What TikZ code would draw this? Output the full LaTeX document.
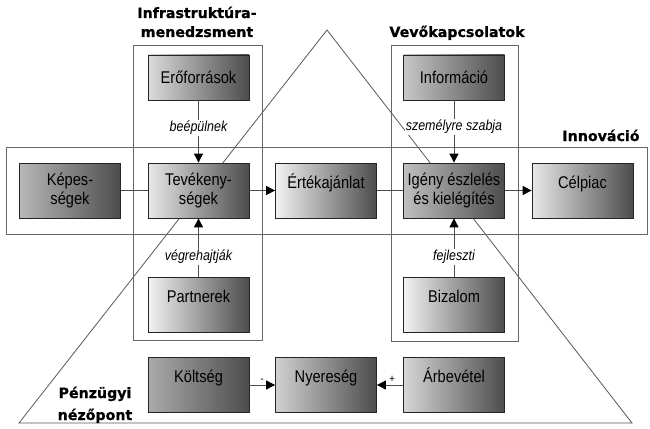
\documentclass[tikz,border=0pt]{standalone}
\usepackage{fontspec}
\setmainfont{Liberation Sans}[FakeStretch=0.86]
\newfontfamily\titlefont{DejaVu Sans}[BoldFeatures={FakeBold=0.8}]
\usetikzlibrary{arrows.meta}
\begin{document}
\begin{tikzpicture}[x=1pt,y=-1pt,
  box/.style={draw=black!85, line width=0.8pt, minimum width=101pt, minimum height=55pt,
    inner sep=0pt, align=center, font=\fontsize{17}{19.5}\selectfont, right color=black!70},
  oneline/.style={text height=12.5pt, text depth=17pt},
  frame/.style={draw=black!60, line width=0.9pt},
  tri/.style={draw=black!65, line width=0.8pt},
  conn/.style={draw=black!70, line width=0.9pt},
  arr/.style={conn, -{Triangle[length=9pt,width=9pt,color=black]}},
  lbl/.style={fill=white, inner sep=1pt, font=\fontsize{14.5}{16}\selectfont\itshape},
  pm/.style={inner sep=1pt, font=\fontsize{11}{12}\selectfont},
  ttl/.style={anchor=base, inner sep=0pt, font=\titlefont\bfseries\fontsize{14.2}{16}\selectfont}
]
\useasboundingbox (0,0) rectangle (650,428);
\fill[white] (0,0) rectangle (650,428);

% triangle (financial view)
\draw[tri] (327,30) -- (19,423) -- (632,423) -- cycle;

% frames
\draw[frame] (133,45) rectangle (262,340);
\draw[frame] (391,45) rectangle (518,341);
\draw[frame] (6,147) rectangle (647,234);

% titles
\node[ttl] (t1a) at (197,18) {Infrastruktúra-};
\node[ttl] (t1b) at (197,37) {menedzsment};
\node[ttl] (t2) at (457,37) {Vevőkapcsolatok};
\node[ttl] (t3) at (601,141) {Innováció};
\node[ttl] (t4a) at (95,398) {Pénzügyi};
\node[ttl] (t4b) at (95,420) {nézőpont};

% boxes
\node[box, minimum height=45pt, left color=black!14] (ero) at (198.5,77.5) {Erőforrások};
\node[box, minimum height=45pt, left color=black!22] (inf) at (454,77.5) {Információ};

\node[box, left color=black!28] (kep) at (70,190.5) {Képes-\\ségek};
\node[box, left color=black!9] (tev) at (198.5,190.5) {Tevékeny-\\ségek};
\node[box, oneline, left color=black!5] (ert) at (326,190.5) {Értékajánlat};
\node[box, left color=black!25] (ige) at (454,190.5) {Igény észlelés\\és kielégítés};
\node[box, oneline, left color=black!9] (cel) at (582.5,190.5) {Célpiac};

\node[box, oneline, left color=black!5] (par) at (198.5,304.5) {Partnerek};
\node[box, oneline, left color=black!5] (biz) at (454,304.5) {Bizalom};

\node[box, oneline, left color=black!33] (kol) at (198.5,385) {Költség};
\node[box, oneline, left color=black!18] (nye) at (326,385) {Nyereség};
\node[box, oneline, left color=black!16] (arb) at (454,385) {Árbevétel};

% connectors
\draw[arr] (ero) -- node[lbl, pos=0.44] {beépülnek} (tev);
\draw[arr] (inf) -- node[lbl, pos=0.43] {személyre szabja} (ige);
\draw[arr] (par) -- node[lbl, pos=0.34] {végrehajtják} (tev);
\draw[arr] (biz) -- node[lbl, pos=0.34] {fejleszti} (ige);

\draw[conn] (kep) -- (tev);
\draw[arr] (tev) -- (ert);
\draw[conn] (ert) -- (ige);
\draw[arr] (ige) -- (cel);

\draw[arr] (kol) -- node[pm, pos=0.5, above, yshift=1pt] {-} (nye);
\draw[arr] (arb) -- node[pm, pos=0.42, above, yshift=1pt] {+} (nye);
\end{tikzpicture}
\end{document}
